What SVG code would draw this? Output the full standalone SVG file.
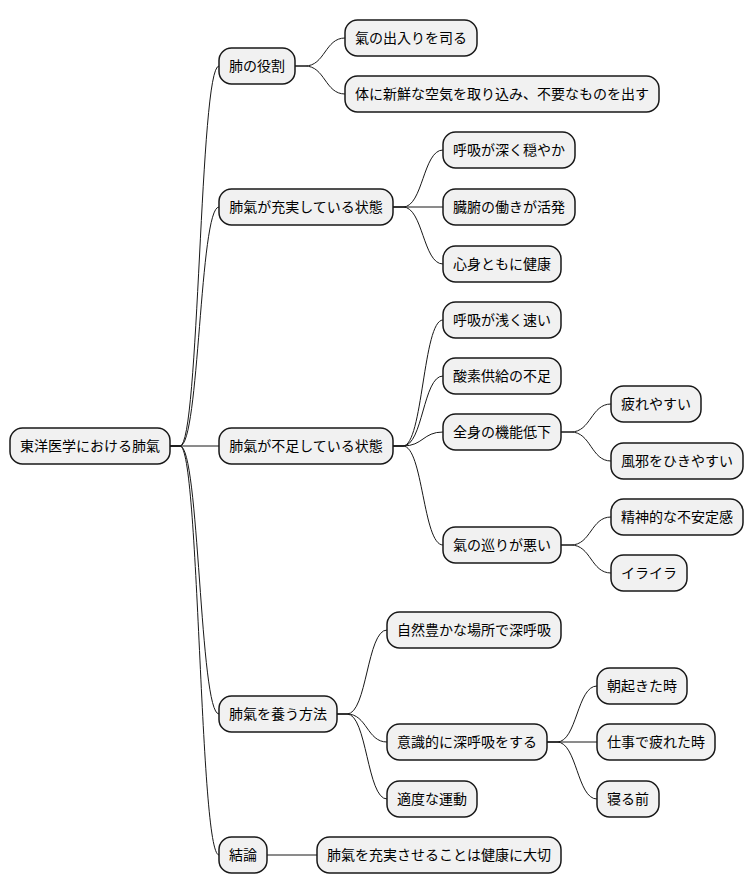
<svg xmlns="http://www.w3.org/2000/svg" width="754" height="893" viewBox="0 0 754 893">
<style>
.n rect{fill:#F1F1F1;stroke:#181818;stroke-width:1.5}
.n text{font-family:"Noto Sans CJK JP","Noto Sans CJK SC",sans-serif;font-size:14px;fill:#000;text-anchor:middle}
#links path{fill:none;stroke:#181818;stroke-width:1}
</style>
<rect width="754" height="893" fill="#FFFFFF"/>
<g id="links">
<path d="M170,446 L180,446 C199.5,446 199.5,66 219,66"/>
<path d="M170,446 L180,446 C199.5,446 199.5,207 219,207"/>
<path d="M170,446 L219,446"/>
<path d="M170,446 L180,446 C199.5,446 199.5,714 219,714"/>
<path d="M170,446 L180,446 C199.5,446 199.5,855 219,855"/>
<path d="M295,66 L305,66 C325,66 325,38 345,38"/>
<path d="M295,66 L305,66 C325,66 325,94 345,94"/>
<path d="M393,207 L403,207 C423,207 423,150 443,150"/>
<path d="M393,207 L443,207"/>
<path d="M393,207 L403,207 C423,207 423,264 443,264"/>
<path d="M393,446 L403,446 C423,446 423,320 443,320"/>
<path d="M393,446 L403,446 C423,446 423,376 443,376"/>
<path d="M393,446 L403,446 C423,446 423,432 443,432"/>
<path d="M393,446 L403,446 C423,446 423,545 443,545"/>
<path d="M561,432 L571,432 C591,432 591,404 611,404"/>
<path d="M561,432 L571,432 C591,432 591,461 611,461"/>
<path d="M561,545 L571,545 C591,545 591,517 611,517"/>
<path d="M561,545 L571,545 C591,545 591,573 611,573"/>
<path d="M337,714 L347,714 C367,714 367,630 387,630"/>
<path d="M337,714 L347,714 C367,714 367,742 387,742"/>
<path d="M337,714 L347,714 C367,714 367,799 387,799"/>
<path d="M547,742 L557,742 C577,742 577,686 597,686"/>
<path d="M547,742 L597,742"/>
<path d="M547,742 L557,742 C577,742 577,799 597,799"/>
<path d="M267,855 L317,855"/>
</g>
<g id="root" class="n"><rect x="10" y="428" width="160" height="36" rx="12.5"/><text x="90" y="451">東洋医学における肺氣</text></g>
<g id="n1" class="n"><rect x="219" y="48" width="76" height="36" rx="12.5"/><text x="257" y="71">肺の役割</text></g>
<g id="n1a" class="n"><rect x="345" y="20" width="132" height="36" rx="12.5"/><text x="411" y="43">氣の出入りを司る</text></g>
<g id="n1b" class="n"><rect x="345" y="76" width="314" height="36" rx="12.5"/><text x="502" y="99">体に新鮮な空気を取り込み、不要なものを出す</text></g>
<g id="n2" class="n"><rect x="219" y="189" width="174" height="36" rx="12.5"/><text x="306" y="212">肺氣が充実している状態</text></g>
<g id="n2a" class="n"><rect x="443" y="132" width="132" height="36" rx="12.5"/><text x="509" y="155">呼吸が深く穏やか</text></g>
<g id="n2b" class="n"><rect x="443" y="189" width="132" height="36" rx="12.5"/><text x="509" y="212">臓腑の働きが活発</text></g>
<g id="n2c" class="n"><rect x="443" y="246" width="118" height="36" rx="12.5"/><text x="502" y="269">心身ともに健康</text></g>
<g id="n3" class="n"><rect x="219" y="428" width="174" height="36" rx="12.5"/><text x="306" y="451">肺氣が不足している状態</text></g>
<g id="n3a" class="n"><rect x="443" y="302" width="118" height="36" rx="12.5"/><text x="502" y="325">呼吸が浅く速い</text></g>
<g id="n3b" class="n"><rect x="443" y="358" width="118" height="36" rx="12.5"/><text x="502" y="381">酸素供給の不足</text></g>
<g id="n3c" class="n"><rect x="443" y="414" width="118" height="36" rx="12.5"/><text x="502" y="437">全身の機能低下</text></g>
<g id="n3c1" class="n"><rect x="611" y="386" width="90" height="36" rx="12.5"/><text x="656" y="409">疲れやすい</text></g>
<g id="n3c2" class="n"><rect x="611" y="443" width="132" height="36" rx="12.5"/><text x="677" y="466">風邪をひきやすい</text></g>
<g id="n3d" class="n"><rect x="443" y="527" width="118" height="36" rx="12.5"/><text x="502" y="550">氣の巡りが悪い</text></g>
<g id="n3d1" class="n"><rect x="611" y="499" width="132" height="36" rx="12.5"/><text x="677" y="522">精神的な不安定感</text></g>
<g id="n3d2" class="n"><rect x="611" y="555" width="76" height="36" rx="12.5"/><text x="649" y="578">イライラ</text></g>
<g id="n4" class="n"><rect x="219" y="696" width="118" height="36" rx="12.5"/><text x="278" y="719">肺氣を養う方法</text></g>
<g id="n4a" class="n"><rect x="387" y="612" width="174" height="36" rx="12.5"/><text x="474" y="635">自然豊かな場所で深呼吸</text></g>
<g id="n4b" class="n"><rect x="387" y="724" width="160" height="36" rx="12.5"/><text x="467" y="747">意識的に深呼吸をする</text></g>
<g id="n4b1" class="n"><rect x="597" y="668" width="90" height="36" rx="12.5"/><text x="642" y="691">朝起きた時</text></g>
<g id="n4b2" class="n"><rect x="597" y="724" width="118" height="36" rx="12.5"/><text x="656" y="747">仕事で疲れた時</text></g>
<g id="n4b3" class="n"><rect x="597" y="781" width="62" height="36" rx="12.5"/><text x="628" y="804">寝る前</text></g>
<g id="n4c" class="n"><rect x="387" y="781" width="90" height="36" rx="12.5"/><text x="432" y="804">適度な運動</text></g>
<g id="n5" class="n"><rect x="219" y="837" width="48" height="36" rx="12.5"/><text x="243" y="860">結論</text></g>
<g id="n5a" class="n"><rect x="317" y="837" width="244" height="36" rx="12.5"/><text x="439" y="860">肺氣を充実させることは健康に大切</text></g>
</svg>
